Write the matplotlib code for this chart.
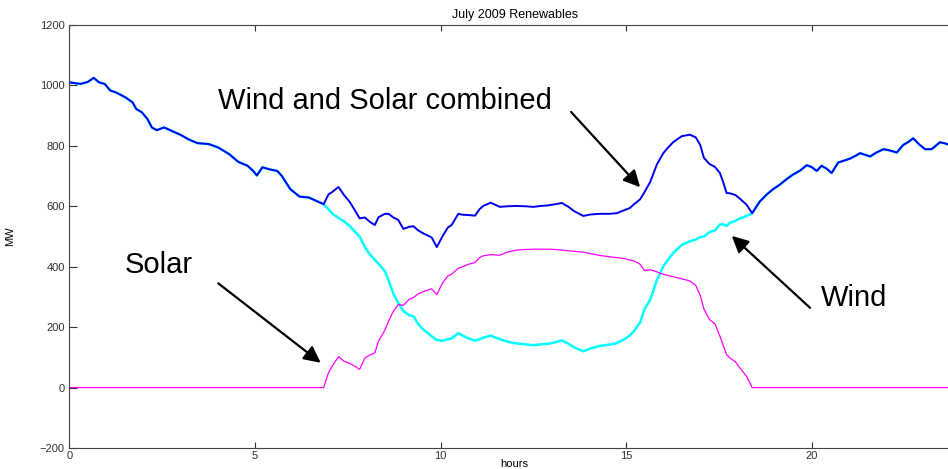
import matplotlib
matplotlib.use('Agg')
import matplotlib.pyplot as plt
import numpy as np

hours = [0.0, 0.3, 0.5, 0.65, 0.8, 0.95, 1.1, 1.25, 1.5, 1.7, 1.8, 1.95, 2.1, 2.22,
         2.35, 2.55, 2.75, 3.0, 3.2, 3.45, 3.75, 4.0, 4.3, 4.55, 4.8, 4.95, 5.05, 5.2,
         5.4, 5.6, 5.72, 5.95, 6.2, 6.45, 6.65, 6.85, 6.98, 7.1, 7.25, 7.4, 7.55, 7.7,
         7.82, 7.96, 8.1, 8.23, 8.33, 8.5, 8.6, 8.73, 8.86, 9.0, 9.15, 9.27, 9.4, 9.54,
         9.76, 9.9, 10.05, 10.2, 10.3, 10.48, 10.6, 10.75, 10.93, 11.05, 11.15, 11.35,
         11.6, 11.8, 12.05, 12.3, 12.5, 12.7, 12.9, 13.1, 13.27, 13.45, 13.6, 13.85,
         14.05, 14.3, 14.55, 14.75, 14.95, 15.1, 15.2, 15.38, 15.5, 15.65, 15.83, 16.0,
         16.1, 16.27, 16.5, 16.72, 16.88, 17.0, 17.1, 17.25, 17.4, 17.53, 17.62, 17.71,
         17.8, 17.95, 18.07, 18.25, 18.4, 18.6, 18.8, 18.97, 19.15, 19.33, 19.5, 19.69,
         19.87, 20.0, 20.14, 20.27, 20.4, 20.54, 20.72, 20.9, 21.04, 21.2, 21.31, 21.45,
         21.58, 21.75, 21.94, 22.1, 22.3, 22.47, 22.6, 22.74, 22.9, 23.06, 23.24, 23.46,
         23.6, 23.8, 24.0]

# wind output (MW)
wind = [1010, 1005, 1012, 1025, 1010, 1005, 983, 977, 961, 944, 922, 911, 889, 861,
        852, 861, 850, 836, 822, 809, 806, 795, 773, 747, 734, 717, 702, 729,
        722, 717, 701, 657, 632, 629, 618, 607, 590, 574, 562, 550, 535, 515,
        500, 465, 440, 423, 410, 385, 355, 310, 280, 253, 240, 236, 210, 192,
        170, 157, 155, 160, 163, 180, 172, 163, 155, 160, 165, 172,
        160, 152, 146, 143, 140, 143, 145, 150, 156, 145, 133, 120,
        130, 138, 142, 147, 160, 172, 185, 215, 260, 290, 355, 400,
        418, 445, 472, 484, 490, 498, 500, 515, 520, 540, 540, 535,
        545, 552, 560, 568, 577, 615, 640, 657, 672, 690, 705, 718,
        736, 730, 717, 734, 725, 710, 745, 752, 758, 768, 776, 770,
        765, 778, 789, 785, 778, 803, 812, 825, 805, 789, 789, 812,
        808, 800, 800]

# solar output (MW)
solar = [0] * 35 + [0, 49, 75, 102, 87, 80, 70,
         60, 98, 108, 115, 154, 190, 220, 253, 275, 272, 292, 298, 310, 318,
         327, 308, 345, 370, 375, 395, 400, 408, 414, 430, 436, 440,
         438, 448, 455, 457, 458, 458, 458, 457, 455, 453, 451, 448,
         443, 437, 433, 430, 427, 422, 420, 408, 387, 390, 383, 375,
         372, 367, 360, 353, 338, 305, 260, 225, 210, 170, 140, 109,
         98, 85, 65, 37, 0] + [0] * 34

hours = np.array(hours)
wind = np.array(wind)
solar = np.array(solar)
combined = wind + solar

plt.rcParams['font.family'] = ['Liberation Sans', 'DejaVu Sans']

fig = plt.figure(figsize=(9.48, 4.69), dpi=100)
ax = fig.add_axes([0.0733, 0.0448, 0.9393, 0.9019])

ax.plot(hours, wind, color='#00ffff', lw=1.8)
ax.plot(hours, combined, color='#0000ee', lw=1.4)
ax.plot(hours, solar, color='#ff00ff', lw=0.9)

ax.set_xlim(0, 24)
ax.set_ylim(-200, 1200)
ax.set_xticks([0, 5, 10, 15, 20])
ax.set_yticks(range(-200, 1201, 200))
ax.tick_params(direction='in', top=True, right=True, labelsize=8, colors='#333333')
ax.tick_params(axis='y', length=6)
ax.tick_params(axis='x', length=4, pad=2)
for s in ax.spines.values():
    s.set_color('#444444')

ax.set_title('July 2009 Renewables', fontsize=9, pad=5)
ax.set_xlabel('hours', fontsize=8, labelpad=-1)
ax.set_ylabel('MW', fontsize=8, labelpad=18)

arrow = dict(arrowstyle='-|>', mutation_scale=25, lw=1.6, color='black',
             shrinkA=0, shrinkB=0)
ax.annotate('', xy=(15.38, 663), xytext=(13.52, 912), arrowprops=arrow)
ax.annotate('', xy=(6.77, 82), xytext=(4.01, 345), arrowprops=arrow)
ax.annotate('', xy=(17.85, 502), xytext=(19.96, 264), arrowprops=arrow)

ax.text(4.0, 922, 'Wind and Solar combined', fontsize=21, va='baseline')
ax.text(1.5, 380, 'Solar', fontsize=21, va='baseline')
ax.text(20.25, 270, 'Wind', fontsize=21, va='baseline')

fig.savefig('out.png', dpi=100)
